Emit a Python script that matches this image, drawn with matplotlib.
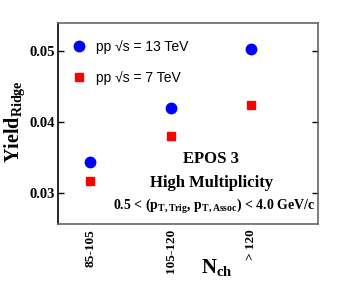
import numpy as np
import matplotlib.pyplot as plt

categories = ['85-105', '105-120', '> 120']
yield_13tev = [0.0343, 0.0420, 0.0503]
yield_7tev = [0.0316, 0.0380, 0.0423]
y_ticks = [0.03, 0.04, 0.05]

serif = ['Liberation Serif', 'DejaVu Serif']
sans = ['Liberation Sans', 'DejaVu Sans']

plt.rcParams['mathtext.fontset'] = 'custom'
plt.rcParams['mathtext.rm'] = 'Liberation Serif:bold'
plt.rcParams['mathtext.bf'] = 'Liberation Serif:bold'
plt.rcParams['mathtext.it'] = 'Liberation Serif:bold'

fig = plt.figure(figsize=(3.39, 2.89), dpi=100)
ax = fig.add_axes([58/339, 1 - 224/289, 260/339, 201/289])

x = np.arange(len(categories))
ax.plot(x, yield_13tev, 'o', color='#0000ff', markersize=7.5, label='pp \u221as = 13 TeV')
ax.plot(x, yield_7tev, 's', color='#ff0000', markersize=6, label='pp \u221as = 7 TeV')

ax.set_xlim(-0.4, 2.83)
ax.set_ylim(0.0256, 0.0539)

ax.set_yticks(y_ticks)
ax.set_yticklabels(['%.2f' % v for v in y_ticks], family=serif, fontweight='bold', fontsize=10.5)
ax.set_xticks(x)
ax.set_xticklabels(categories, rotation=90, family=serif, fontweight='bold', fontsize=9.5, va='top')
ax.tick_params(axis='y', direction='in', length=4, width=1, right=True, pad=2)
ax.tick_params(axis='x', length=0, pad=3.5)

for side in ['top', 'right', 'bottom']:
    ax.spines[side].set_color('#666666')
    ax.spines[side].set_linewidth(1.2)
ax.spines['left'].set_color('black')
ax.spines['left'].set_linewidth(1.2)

leg = ax.legend(loc='upper left', bbox_to_anchor=(0.002, 0.98), frameon=False,
                prop={'family': sans, 'size': 10}, handletextpad=0.6,
                labelspacing=1.25, handlelength=1.2, borderaxespad=0.5)

ax.text(0.59, 0.325, 'EPOS 3', transform=ax.transAxes, ha='center', va='center',
        family=serif, fontweight='bold', fontsize=12)
ax.text(0.59, 0.205, 'High Multiplicity', transform=ax.transAxes, ha='center', va='center',
        family=serif, fontweight='bold', fontsize=12)
ax.text(0.99, 0.085, r'0.5 < (p$_{\mathrm{T,Trig}}$, p$_{\mathrm{T,Assoc}}$) < 4.0 GeV/c',
        transform=ax.transAxes, ha='right', va='center',
        family=serif, fontweight='bold', fontsize=10)

fig.text(15/339, 1 - 122/289, r'Yield$_{\mathrm{Ridge}}$', rotation=90, ha='center', va='center',
         family=serif, fontweight='bold', fontsize=14.5)
fig.text(217/339, 1 - 267/289, r'N$_{\mathrm{ch}}$', ha='center', va='center',
         family=serif, fontweight='bold', fontsize=15)

fig.savefig('out.png', dpi=100)
